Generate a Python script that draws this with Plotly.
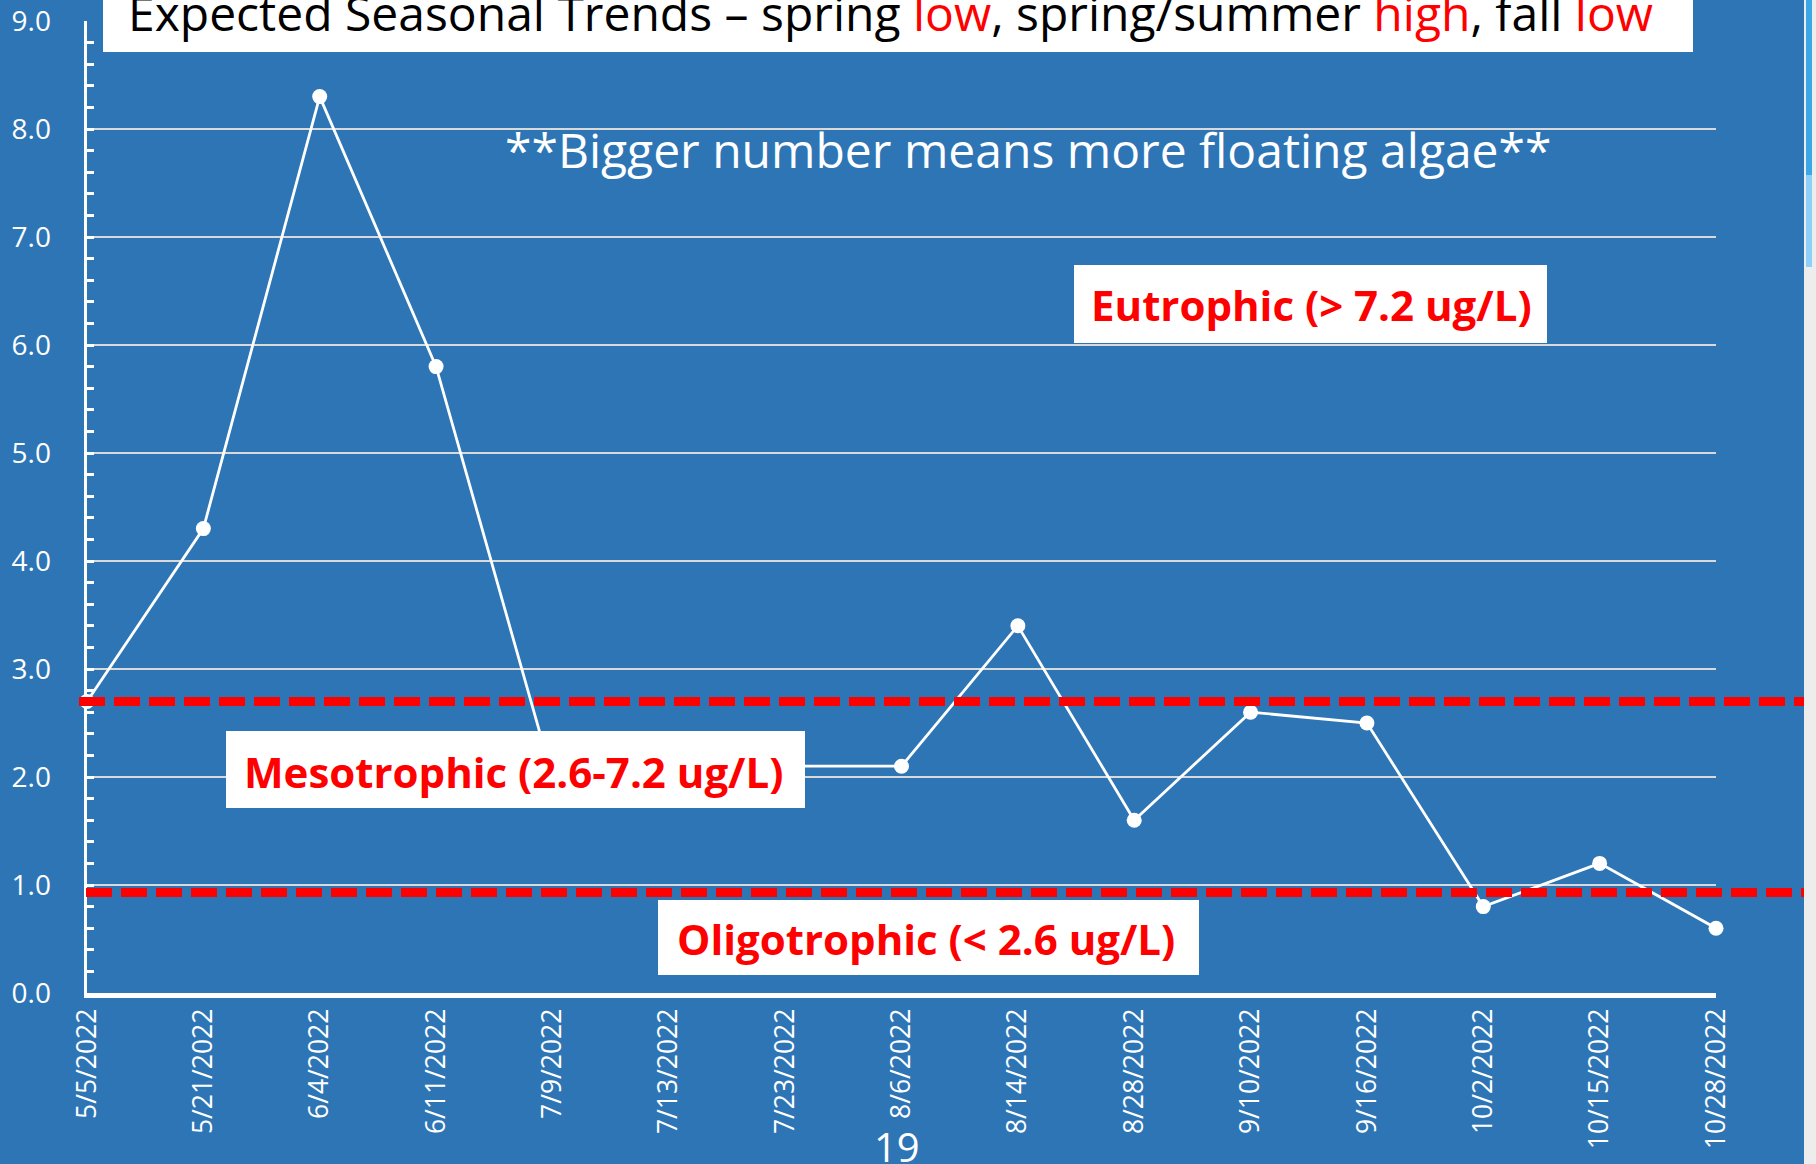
import plotly.graph_objects as go

# ---- data ----
dates = ["5/5/2022", "5/21/2022", "6/4/2022", "6/11/2022", "7/9/2022", "7/13/2022",
         "7/23/2022", "8/6/2022", "8/14/2022", "8/28/2022", "9/10/2022", "9/16/2022",
         "10/2/2022", "10/15/2022", "10/28/2022"]
chl = [2.7, 4.3, 8.3, 5.8, 2.0, 2.1, 2.1, 2.1, 3.4, 1.6, 2.6, 2.5, 0.8, 1.2, 0.6]
y_ticks = [0, 1, 2, 3, 4, 5, 6, 7, 8, 9]
meso_line = 2.7
oligo_line = 0.93

W, H = 1816, 1164
BG = "#2E75B6"
FONT = "Open Sans"


def px(x):
    return x / W


def py(y):
    return 1 - y / H


fig = go.Figure()
fig.add_trace(go.Scatter(
    x=dates, y=chl, mode="lines+markers",
    line=dict(color="white", width=2.8),
    marker=dict(color="white", size=15),
    cliponaxis=False, showlegend=False, hoverinfo="skip",
))

shapes = []
# threshold dashed lines
shapes.append(dict(type="line", xref="paper", yref="y", x0=px(79), x1=px(1806),
                   y0=meso_line, y1=meso_line,
                   line=dict(color="#FF0000", width=9, dash="26px,9px")))
shapes.append(dict(type="line", xref="paper", yref="y", x0=px(86), x1=px(1809),
                   y0=oligo_line, y1=oligo_line,
                   line=dict(color="#FF0000", width=9, dash="26px,9px")))


def box(x0, y0, x1, y1, color="white"):
    return dict(type="rect", xref="paper", yref="paper", x0=px(x0), x1=px(x1),
                y0=py(y1), y1=py(y0), fillcolor=color, line=dict(width=0), layer="above")


shapes.append(box(103, -5, 1693, 52))       # title box
shapes.append(box(1074, 265, 1547, 343))    # Eutrophic
shapes.append(box(226, 731, 805, 808))      # Mesotrophic
shapes.append(box(658, 900, 1199, 975))     # Oligotrophic
# right-edge scrollbar fragment
shapes.append(box(1804, 0, 1816, 1164, "#EDEDED"))
shapes.append(box(1806, 0, 1812, 175, "#3AA8E6"))
shapes.append(box(1806, 175, 1812, 267, "#8DCFF6"))

red = "#FF0000"
annotations = [
    dict(text=("Expected Seasonal Trends \u2013 spring <span style='color:%s'>low</span>, "
               "spring/summer <span style='color:%s'>high</span>, fall "
               "<span style='color:%s'>low</span>") % (red, red, red),
         x=px(890), y=py(13), font=dict(family=FONT, size=48, color="black")),
    dict(text="**Bigger number means more floating algae**",
         x=px(1028), y=py(150), font=dict(family=FONT, size=48, color="white")),
    dict(text="<b>Eutrophic (&gt; 7.2 ug/L)</b>",
         x=px(1311), y=py(305), font=dict(family=FONT, size=42, color=red)),
    dict(text="<b>Mesotrophic (2.6-7.2 ug/L)</b>",
         x=px(513), y=py(771), font=dict(family=FONT, size=42, color=red)),
    dict(text="<b>Oligotrophic (&lt; 2.6 ug/L)</b>",
         x=px(926), y=py(938), font=dict(family=FONT, size=42, color=red)),
    dict(text="19", x=px(897), y=py(1146), font=dict(family=FONT, size=40, color="white")),
]
for a in annotations:
    a.update(xref="paper", yref="paper", xanchor="center", yanchor="middle",
             showarrow=False)

fig.update_layout(
    width=W, height=H,
    margin=dict(l=0, r=0, t=0, b=0, autoexpand=False),
    paper_bgcolor=BG, plot_bgcolor=BG,
    shapes=shapes, annotations=annotations,
    showlegend=False, hovermode=False,
    xaxis=dict(
        domain=[px(87), px(1716)], type="category", range=[0, len(dates) - 1],
        automargin=False,
        showgrid=False, zeroline=False, showline=True, linecolor="white", linewidth=5,
        ticks="", tickangle=-90, ticklabelstandoff=0,
        tickfont=dict(family=FONT, size=26.5, color="white"),
    ),
    yaxis=dict(
        domain=[py(993), py(21)], range=[0, 9], tickvals=y_ticks, tickformat=".1f",
        automargin=False,
        showgrid=True, gridcolor="#D9D9D9", gridwidth=2, zeroline=False,
        showline=True, linecolor="white", linewidth=3.5,
        ticks="inside", ticklen=7, tickwidth=3, tickcolor="white",
        minor=dict(dtick=0.2, ticks="inside", ticklen=7, tickwidth=3,
                   tickcolor="white", showgrid=False),
        ticklabelstandoff=27,
        tickfont=dict(family=FONT, size=28, color="white"),
    ),
)

fig.write_html("out.html", config={"displayModeBar": False, "staticPlot": True},
               post_script="document.body.style.margin='0px';document.body.style.overflow='hidden';")
